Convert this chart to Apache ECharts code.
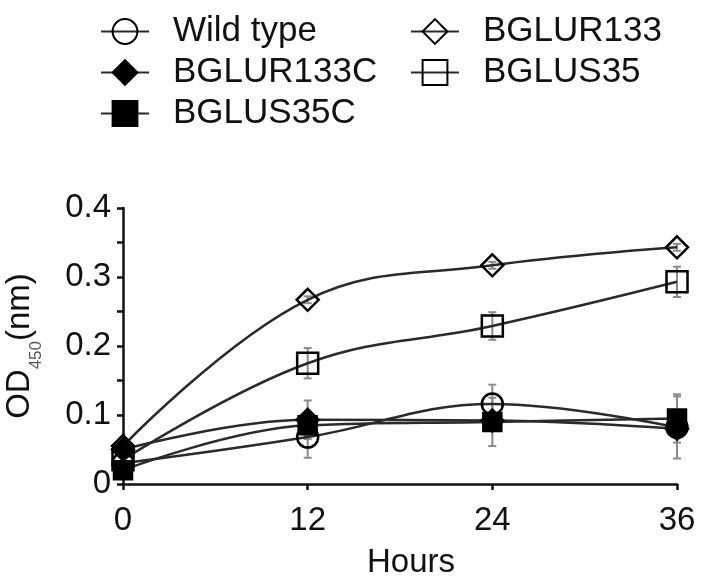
<!DOCTYPE html>
<html>
<head>
<meta charset="utf-8">
<script src="https://cdn.jsdelivr.net/npm/echarts@6/dist/echarts.min.js"></script>
<style>
html, body { margin: 0; padding: 0; background: #fff; }
#chart { width: 708px; height: 586px; }
</style>
</head>
<body>
<div id="chart"></div>
<script>
var hours = [0, 12, 24, 36];
var yTicks = [0, 0.1, 0.2, 0.3, 0.4];

var wildType = [0.030, 0.068, 0.116, 0.082];
var bglur133 = [0.055, 0.267, 0.317, 0.343];
var bglus35 = [0.035, 0.175, 0.229, 0.293];
var bglur133c = [0.050, 0.093, 0.092, 0.080];
var bglus35c = [0.020, 0.085, 0.090, 0.095];

// +/- error per time point
var wildTypeErr = [0.008, 0.030, 0.028, 0.045];
var bglur133Err = [0.005, 0.005, 0.005, 0.005];
var bglus35Err = [0.008, 0.022, 0.020, 0.022];
var bglur133cErr = [0.005, 0.028, 0.010, 0.010];
var bglus35cErr = [0.005, 0.015, 0.035, 0.035];

var font = 'Liberation Sans';
var lineColor = '#2a2a2a';

function pairs(vals) {
    return hours.map(function (h, i) { return [h, vals[i]]; });
}

function errData(vals, errs) {
    return hours.map(function (h, i) { return [h, vals[i] - errs[i], vals[i] + errs[i]]; });
}

var seriesDefs = [
    {name: 'Wild type', vals: wildType, errs: wildTypeErr, symbol: 'circle', size: 21, filled: false},
    {name: 'BGLUR133C', vals: bglur133c, errs: bglur133cErr, symbol: 'diamond', size: 22, filled: true},
    {name: 'BGLUS35C', vals: bglus35c, errs: bglus35cErr, symbol: 'rect', size: 18, filled: true},
    {name: 'BGLUR133', vals: bglur133, errs: bglur133Err, symbol: 'diamond', size: 22, filled: false},
    {name: 'BGLUS35', vals: bglus35, errs: bglus35Err, symbol: 'rect', size: 21, filled: false}
];

var series = [];
seriesDefs.forEach(function (d) {
    series.push({
        name: d.name + ' err',
        type: 'custom',
        silent: true,
        z: 1,
        renderItem: function (params, api) {
            var top = api.coord([api.value(0), api.value(2)]);
            var bot = api.coord([api.value(0), api.value(1)]);
            var c = 4;
            var st = {stroke: '#8a8a8a', lineWidth: 2};
            return {
                type: 'group',
                children: [
                    {type: 'line', shape: {x1: top[0], y1: top[1], x2: bot[0], y2: bot[1]}, style: st},
                    {type: 'line', shape: {x1: top[0] - c, y1: top[1], x2: top[0] + c, y2: top[1]}, style: st},
                    {type: 'line', shape: {x1: bot[0] - c, y1: bot[1], x2: bot[0] + c, y2: bot[1]}, style: st}
                ]
            };
        },
        data: errData(d.vals, d.errs)
    });
    series.push({
        name: d.name,
        type: 'line',
        smooth: 0.4,
        z: 3,
        symbol: d.symbol,
        symbolSize: d.size,
        showAllSymbol: true,
        lineStyle: {color: lineColor, width: 2.5},
        itemStyle: {
            color: d.filled ? '#000' : 'rgba(255,255,255,0)',
            borderColor: '#000',
            borderWidth: 2.5
        },
        emphasis: {disabled: true},
        data: pairs(d.vals)
    });
});

var legendText = {fontFamily: font, fontSize: 35, lineHeight: 30, color: '#111', padding: [0, 0, 0, 19]};

var option = {
    animation: false,
    backgroundColor: '#fff',
    legend: [
        {
            data: ['Wild type', 'BGLUR133C', 'BGLUS35C'],
            orient: 'vertical',
            left: 95,
            top: 9,
            itemWidth: 48,
            itemHeight: 31,
            itemGap: 6,
            textStyle: legendText
        },
        {
            data: ['BGLUR133', 'BGLUS35'],
            orient: 'vertical',
            left: 405,
            top: 9,
            itemWidth: 48,
            itemHeight: 31,
            itemGap: 6,
            textStyle: legendText
        }
    ],
    grid: {left: 123, right: 31, top: 208, bottom: 102, outerBoundsMode: 'none'},
    xAxis: {
        type: 'value',
        min: 0,
        max: 36,
        interval: 12,
        name: 'Hours',
        nameLocation: 'middle',
        nameGap: 62,
        nameTextStyle: {fontFamily: font, fontSize: 33, color: '#111', padding: [0, 0, 0, 22]},
        axisLine: {lineStyle: {color: '#111', width: 2.5}},
        axisTick: {length: 6, lineStyle: {color: '#111', width: 2.5}},
        axisLabel: {fontFamily: font, fontSize: 33, color: '#111', margin: 20},
        splitLine: {show: false}
    },
    yAxis: {
        type: 'value',
        min: 0,
        max: 0.4,
        interval: 0.1,
        name: '{a|OD}{s|450}{a|(nm)}',
        nameLocation: 'middle',
        nameRotate: 90,
        nameGap: 78,
        nameTextStyle: {
            rich: {
                a: {fontFamily: font, fontSize: 33, color: '#111', lineHeight: 33, verticalAlign: 'top'},
                s: {fontFamily: font, fontSize: 17, color: '#555', lineHeight: 42, verticalAlign: 'bottom'}
            }
        },
        axisLine: {show: true, lineStyle: {color: '#111', width: 2.5}},
        axisTick: {show: true, length: 6, lineStyle: {color: '#111', width: 2.5}},
        minorTick: {show: true, splitNumber: 2, length: 6, lineStyle: {color: '#111', width: 2.5}},
        axisLabel: {
            fontFamily: font, fontSize: 33, color: '#111', margin: 12,
            formatter: function (v) { return v === 0 ? '0' : (yTicks.indexOf(v) >= 0 ? v.toFixed(1) : ''); }
        },
        splitLine: {show: false}
    },
    series: series
};

var myChart = echarts.init(document.getElementById('chart'));
myChart.setOption(option);
</script>
</body>
</html>
